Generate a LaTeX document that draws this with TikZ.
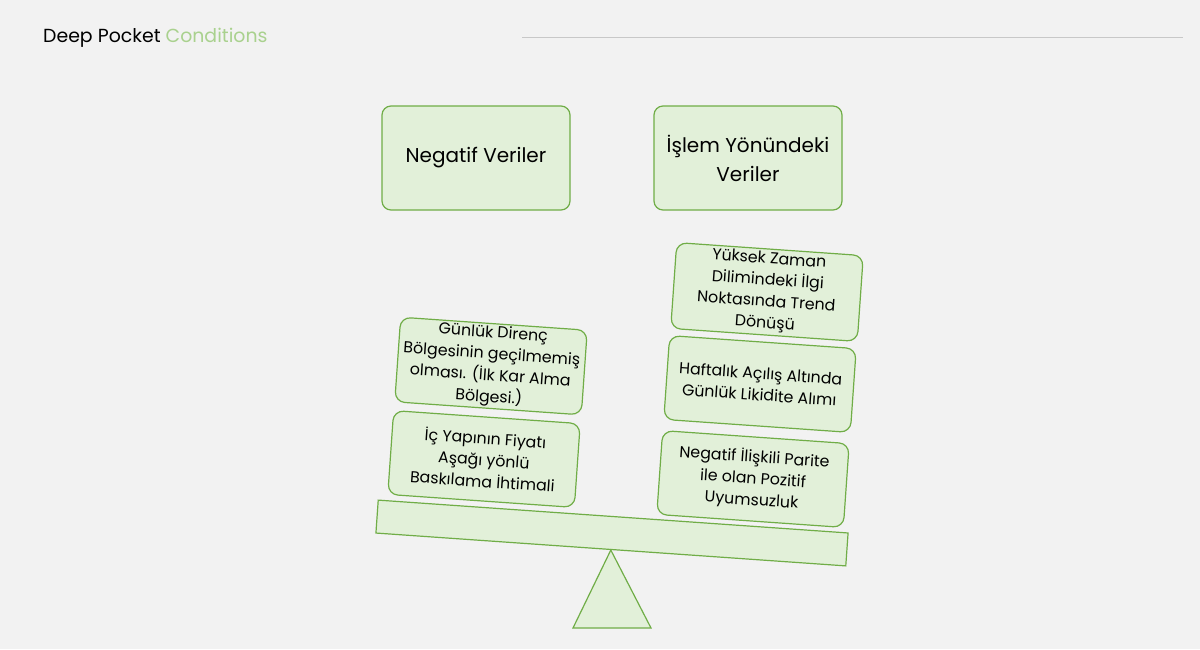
\documentclass[tikz,border=0pt]{standalone}
\usepackage{fontspec}
\setmainfont{Poppins}
\definecolor{pagebg}{HTML}{F2F2F2}
\definecolor{boxfill}{HTML}{E2F0D9}
\definecolor{boxline}{HTML}{70AD47}
\definecolor{titlegreen}{HTML}{A9D18E}
\definecolor{rulegray}{HTML}{C8C8C8}
\begin{document}
\begin{tikzpicture}[x=1pt,y=-1pt,
  headbox/.style={draw=boxline, fill=boxfill, line width=1.2pt, rounded corners=9pt, align=center, minimum width=188pt, minimum height=104pt, font=\fontsize{20}{29}\selectfont},
  weightbox/.style={draw=boxline, fill=boxfill, line width=1.2pt, rounded corners=10pt, align=center, minimum width=187pt, minimum height=84pt, inner sep=2pt, rotate=-4, font=\fontsize{15.8}{21.5}\selectfont},
  beambox/.style={draw=boxline, fill=boxfill, line width=1.2pt, minimum width=471pt, minimum height=33pt, rotate=-4}]
\useasboundingbox (0,0) rectangle (1200,649);
\fill[pagebg] (0,0) rectangle (1200,649);
\node[anchor=base west, font=\fontsize{18.9}{22}\selectfont, inner sep=0pt] (title) at (43,42) {Deep Pocket \textcolor{titlegreen}{Conditions}};
\coordinate (rulea) at (522,37);
\coordinate (ruleb) at (1183,37);
\draw[rulegray, line width=0.8pt] (rulea) -- (ruleb);
\node[headbox] (neg) at (476,158) {Negatif Veriler};
\node[headbox] (pos) at (748,158) {İşlem Yönündeki\\ Veriler};
\node[weightbox] (direnc) at (491,366) {Günlük Direnç\\ Bölgesinin geçilmemiş\\ olması. (İlk Kar Alma\\ Bölgesi.)};
\node[weightbox] (icyapi) at (484,459) {İç Yapının Fiyatı\\ Aşağı yönlü\\ Baskılama İhtimali};
\node[weightbox, minimum height=86pt] (donus) at (767,292) {Yüksek Zaman\\ Dilimindeki İlgi\\ Noktasında Trend\\ Dönüşü};
\node[weightbox] (likidite) at (760,384) {Haftalık Açılış Altında\\ Günlük Likidite Alımı};
\node[weightbox] (uyum) at (753,479) {Negatif İlişkili Parite\\ ile olan Pozitif\\ Uyumsuzluk};
\node[beambox] (beam) at (612,533) {};
\coordinate (footl) at (573,628);
\coordinate (footr) at (651,628);
\draw[draw=boxline, fill=boxfill, line width=1.2pt] (beam.south) -- (footr) -- (footl) -- cycle;
\end{tikzpicture}
\end{document}
